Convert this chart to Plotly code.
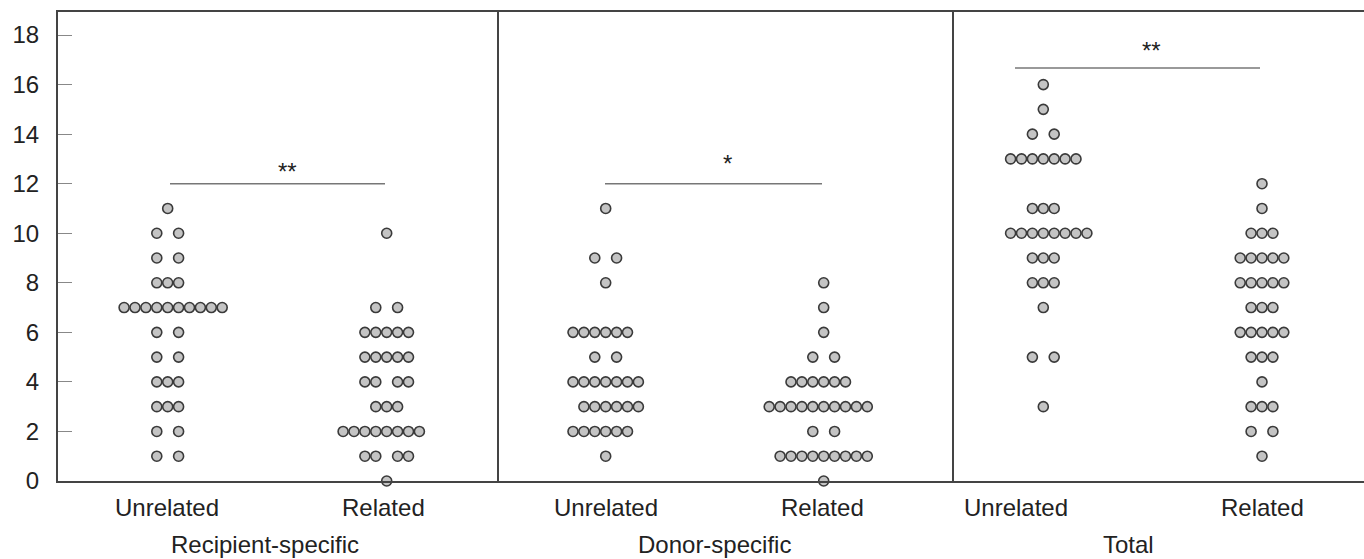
import plotly.graph_objects as go
from collections import Counter

# ---------------- data (individual values) ----------------
recip_unrelated = [11, 10, 10, 9, 9, 8, 8, 8, 7, 7, 7, 7, 7, 7, 7, 7, 7, 7,
                   6, 6, 5, 5, 4, 4, 4, 3, 3, 3, 2, 2, 1, 1]
recip_related = [10, 7, 7, 6, 6, 6, 6, 6, 5, 5, 5, 5, 5, 4, 4, 4, 4, 3, 3, 3,
                 2, 2, 2, 2, 2, 2, 2, 2, 1, 1, 1, 1, 0]
donor_unrelated = [11, 9, 9, 8, 6, 6, 6, 6, 6, 6, 5, 5, 4, 4, 4, 4, 4, 4, 4,
                   3, 3, 3, 3, 3, 3, 2, 2, 2, 2, 2, 2, 1]
donor_related = [8, 7, 6, 5, 5, 4, 4, 4, 4, 4, 4, 3, 3, 3, 3, 3, 3, 3, 3, 3, 3,
                 2, 2, 1, 1, 1, 1, 1, 1, 1, 1, 1, 0]
total_unrelated = [16, 15, 14, 14, 13, 13, 13, 13, 13, 13, 13, 11, 11, 11,
                   10, 10, 10, 10, 10, 10, 10, 10, 9, 9, 9, 8, 8, 8, 7, 5, 5, 3]
total_related = [12, 11, 10, 10, 10, 9, 9, 9, 9, 9, 8, 8, 8, 8, 8, 7, 7, 7,
                 6, 6, 6, 6, 6, 5, 5, 5, 4, 3, 3, 3, 2, 2, 1]

category_labels = ["Unrelated", "Related", "Unrelated", "Related", "Unrelated", "Related"]
panel_titles = ["Recipient-specific", "Donor-specific", "Total"]
significance = ["**", "*", "**"]
sig_levels = [12, 12, 16.67]
y_ticks = [0, 2, 4, 6, 8, 10, 12, 14, 16, 18]

# ---------------- layout (pixel-based x axis) ----------------
W, H = 1364, 559
ML, MR, MT, MB = 58, 0, 12, 78
X0, X1 = ML, W - MR
YMAX = 18.93
SLOT = 10.9
FONT = "Liberation Sans, Arial, Helvetica"
FS = 24

groups = [recip_unrelated, recip_related, donor_unrelated,
          donor_related, total_unrelated, total_related]
dot_centers = [167.7, 386.7, 605.7, 823.7, 1043.3, 1262]
label_centers = [167, 383, 606, 822, 1016, 1262]
panel_title_x = [265, 714, 1128]
dividers = [498, 953]
sig_spans = [(170, 385), (605, 822), (1015, 1260)]
star_x = [287, 727, 1151]
star_offset = [12, 20, 17]
# even rows (n>=6) shifted right by half a slot (others shifted left)
right_shift_rows = [{7}, set(), {3}, set(), {10}, set()]


def slots_for(n, right):
    if n % 2 == 1:
        return [i - (n - 1) / 2 for i in range(n)]
    if n == 2:
        return [-1, 1]
    if n == 4:
        return [-2, -1, 1, 2]
    start = -(n // 2) + (1 if right else 0)
    return [start + i for i in range(n)]


fig = go.Figure()
for gi, vals in enumerate(groups):
    cnt = Counter(vals)
    xs, ys = [], []
    for v in sorted(cnt):
        for s in slots_for(cnt[v], v in right_shift_rows[gi]):
            xs.append(dot_centers[gi] + s * SLOT)
            ys.append(v)
    fig.add_trace(go.Scatter(
        x=xs, y=ys, mode="markers", cliponaxis=False, showlegend=False,
        marker=dict(size=10, color="#c4c4c4", line=dict(color="#3a3a3a", width=1.6)),
        hoverinfo="y"))

shapes = []
for d in dividers:
    shapes.append(dict(type="line", xref="x", yref="paper", x0=d, x1=d, y0=0, y1=1,
                       line=dict(color="#444444", width=2)))
for (a, b), lev in zip(sig_spans, sig_levels):
    shapes.append(dict(type="line", xref="x", yref="y", x0=a, x1=b, y0=lev, y1=lev,
                       line=dict(color="#777777", width=1.4)))

annotations = []
for lab, xc in zip(category_labels, label_centers):
    annotations.append(dict(x=xc, y=0, xref="x", yref="paper", text=lab, showarrow=False,
                            xanchor="center", yanchor="middle", yshift=-26,
                            font=dict(family=FONT, size=FS, color="#222222")))
for lab, xc in zip(panel_titles, panel_title_x):
    annotations.append(dict(x=xc, y=0, xref="x", yref="paper", text=lab, showarrow=False,
                            xanchor="center", yanchor="middle", yshift=-63,
                            font=dict(family=FONT, size=FS, color="#222222")))
for s, xc, lev, off in zip(significance, star_x, sig_levels, star_offset):
    annotations.append(dict(x=xc, y=lev, xref="x", yref="y", text=s, showarrow=False,
                            xanchor="center", yanchor="middle", yshift=off,
                            font=dict(family=FONT, size=FS, color="#222222")))

fig.update_layout(
    width=W, height=H,
    margin=dict(l=ML, r=MR, t=MT, b=MB, autoexpand=False),
    paper_bgcolor="white", plot_bgcolor="white",
    xaxis=dict(range=[X0, X1], showgrid=False, zeroline=False, showticklabels=False,
               ticks="", showline=True, mirror=True, linecolor="#444444", linewidth=2,
               fixedrange=True, automargin=False),
    yaxis=dict(range=[0, YMAX], showgrid=False, zeroline=False, tickvals=y_ticks,
               ticks="inside", ticklen=14, tickwidth=1.4, tickcolor="#888888",
               ticklabelstandoff=12, automargin=False,
               tickfont=dict(family=FONT, size=FS, color="#222222"),
               showline=True, mirror=True, linecolor="#444444", linewidth=2,
               fixedrange=True),
    shapes=shapes, annotations=annotations,
)

fig.write_html("out.html", config={"displayModeBar": False},
               post_script="document.body.style.margin='0';document.body.style.overflow='hidden';")
